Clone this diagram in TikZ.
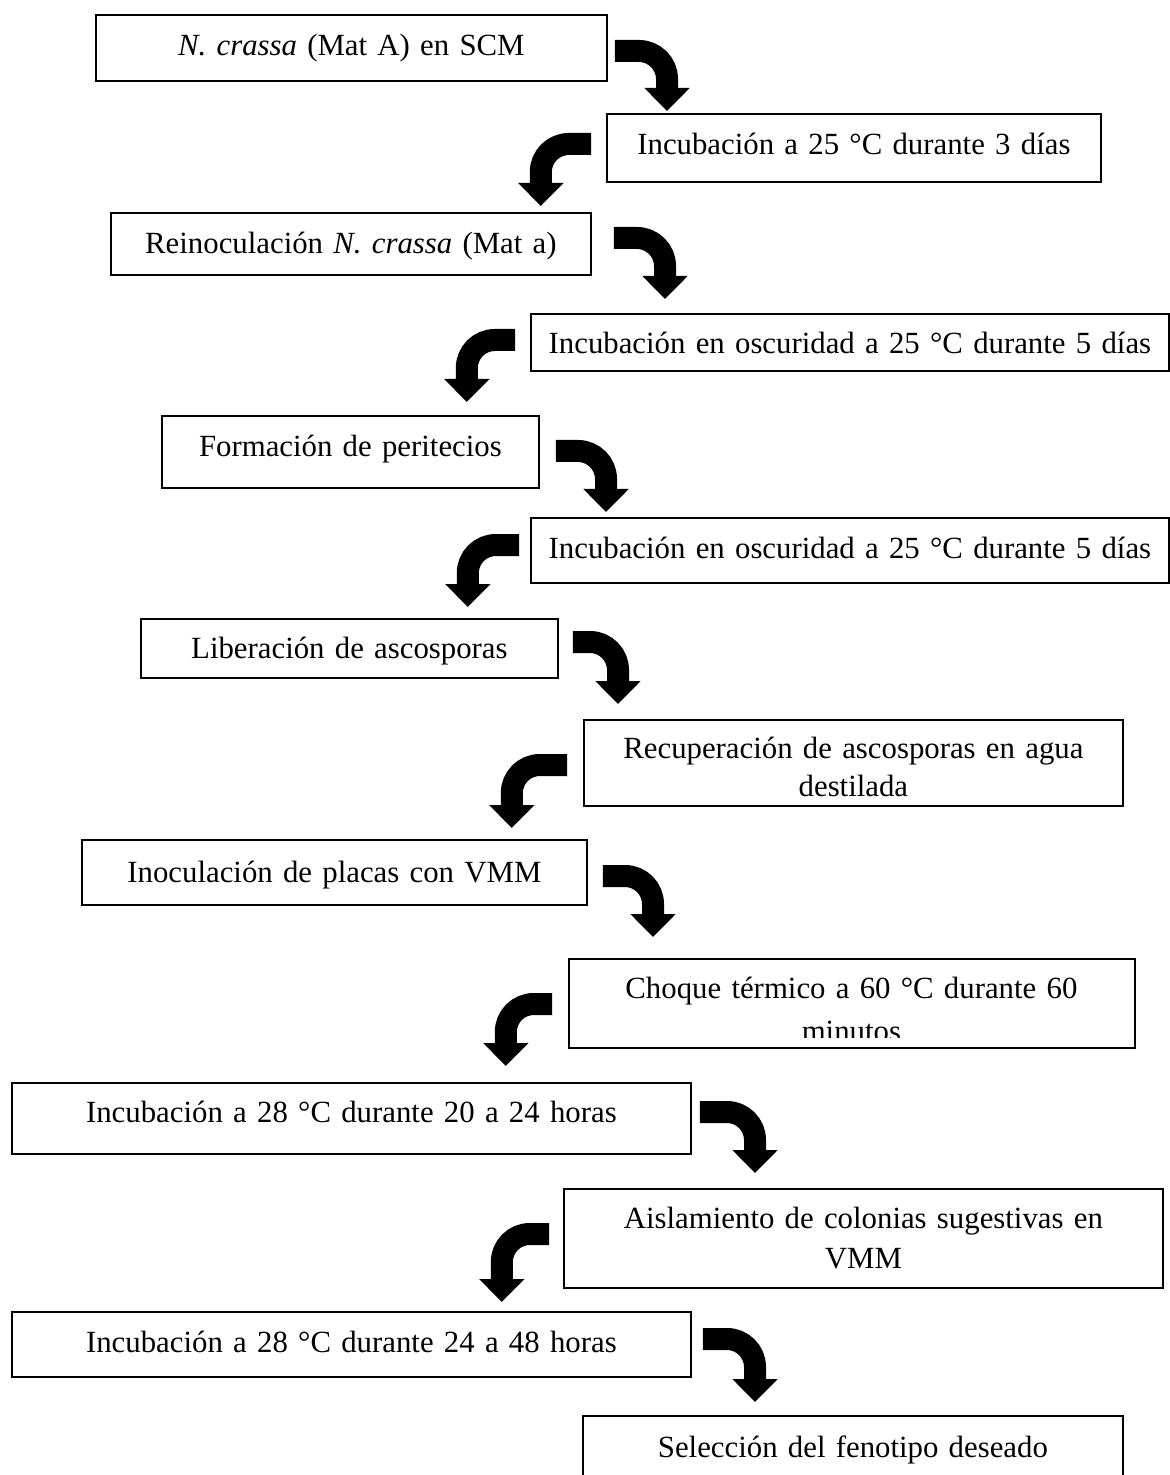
\documentclass[tikz,border=0pt]{standalone}
\usepackage{fontspec}
\setmainfont{Liberation Serif}
\usetikzlibrary{arrows.meta}

\begin{document}
\begin{tikzpicture}[x=0.5pt, y=-0.5pt]
		\tikzstyle{steptext}=[anchor=north west, inner sep=0pt, align=center, font=\fontsize{15.4pt}{19pt}\selectfont]
		\tikzstyle{stepbox}=[steptext, draw, line width=0.9pt]
		\tikzstyle{bentarrow}=[line width=11pt, rounded corners=14pt, -{Triangle[width=22pt,length=11.5pt]}]
		\useasboundingbox (0,0) rectangle (1170,1475);
		
		\node[stepbox, text width=255.5pt, text height=20.5pt, text depth=12.5pt](s-1) at (95,14) {\textit{N. crassa} (Mat A) en SCM};
		\node[stepbox, text width=247pt, text height=20.5pt, text depth=13.5pt](s-2) at (606,113) {Incubación a 25 °C durante 3 días};
		\node[stepbox, text width=240pt, text height=20.5pt, text depth=10.5pt](s-3) at (110,212) {Reinoculación \textit{N. crassa} (Mat a)};
		\node[stepbox, text width=319pt, text height=20pt, text depth=8.5pt](s-4) at (530,313) {Incubación en oscuridad a 25 °C durante 5 días};
		\node[stepbox, text width=188.5pt, text height=20.5pt, text depth=15.5pt](s-5) at (161,415) {Formación de peritecios};
		\node[stepbox, text width=319pt, text height=20.5pt, text depth=12pt](s-6) at (530,517) {Incubación en oscuridad a 25 °C durante 5 días};
		\node[stepbox, text width=208.5pt, text height=20pt, text depth=9.5pt](s-7) at (140,618) {Liberación de ascosporas};
		\node[stepbox, text width=269.5pt, text height=19.5pt, text depth=23.5pt](s-8) at (583,719) {Recuperación de ascosporas en agua\\destilada};
		\node[stepbox, text width=252.5pt, text height=21.5pt, text depth=11pt](s-9) at (81,839) {Inoculación de placas con VMM};
		\node[stepbox, text width=283pt, text height=20pt, text depth=24.5pt](s-10) at (568,958) {};
		\begin{scope}
			\clip (s-10.north west) rectangle ([shift={(0,-11)}]s-10.south east);
			\node[steptext, text width=283pt, text height=20pt](t-10) at (s-10.north west) {Choque térmico a 60 °C durante 60\\[2.5pt]minutos};
		\end{scope}
		\node[stepbox, text width=339.5pt, text height=20pt, text depth=15.5pt](s-11) at (11,1082) {Incubación a 28 °C durante 20 a 24 horas};
		\node[stepbox, text width=299.5pt, text height=20pt, text depth=29.5pt](s-12) at (563,1188) {Aislamiento de colonias sugestivas en\\[1pt]VMM};
		\node[stepbox, text width=339.5pt, text height=20.5pt, text depth=12pt](s-13) at (11,1311) {Incubación a 28 °C durante 24 a 48 horas};
		\node[stepbox, text width=270pt, text height=21pt, text depth=21.5pt](s-14) at (582,1415) {Selección del fenotipo deseado};
		
		\foreach \i/\j/\sx/\sy/\tx/\ty in {1/2/7/37/61/-2, 3/4/22/26/135/-14, 5/6/16/36/76/-5, 7/8/14/24/35/-15, 9/10/15/37/85/-21, 11/12/8/30/192/-15, 13/14/11/28/173/-13}
		\draw[bentarrow] ([shift={(\sx,\sy)}]s-\i.north east) -| ([shift={(\tx,\ty)}]s-\j.north west);
		
		\foreach \i/\j/\sx/\sy/\tx/\ty in {2/3/-15/31/-51/-6, 4/5/-15/27/-73/-13, 6/7/-11/28/-91/-11, 8/9/-16/46/-76/-11, 10/11/-16/46/-186/-16, 12/13/-14/46/-190/-9}
		\draw[bentarrow] ([shift={(\sx,\sy)}]s-\i.north west) -| ([shift={(\tx,\ty)}]s-\j.north east);
\end{tikzpicture}
\end{document}
